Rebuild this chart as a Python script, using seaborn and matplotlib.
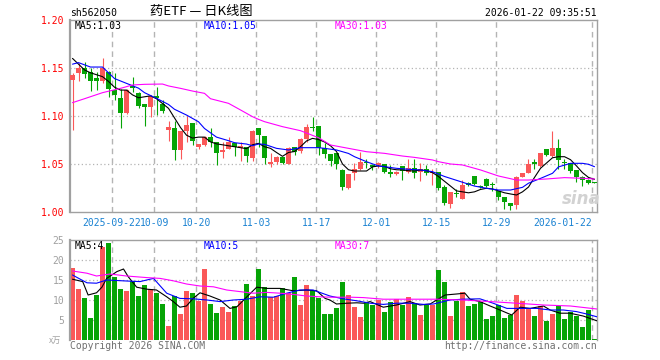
import matplotlib
matplotlib.use("Agg")
import matplotlib.pyplot as plt
import numpy as np
import pandas as pd
import seaborn as sns

# ---- daily candles (index 0 = first visible trading day) ----
opens = [1.1375, 1.1444, 1.1503, 1.1458, 1.1399, 1.1368, 1.1458, 1.1271, 1.1188, 1.1028,
         1.1310, 1.1243, 1.1125, 1.1090, 1.1212, 1.1125, 1.0854, 1.0878, 1.0646, 1.0844,
         1.0927, 1.0674, 1.0698, 1.0778, 1.0726, 1.0630, 1.0660, 1.0720, 1.0665, 1.0680,
         1.0566, 1.0875, 1.0792, 1.0500, 1.0524, 1.0576, 1.0500, 1.0674, 1.0639, 1.0760,
         1.0875, 1.0896, 1.0663, 1.0604, 1.0618, 1.0438, 1.0253, 1.0403, 1.0445, 1.0510,
         1.0488, 1.0490, 1.0500, 1.0420, 1.0396, 1.0479, 1.0420, 1.0455, 1.0420, 1.0445,
         1.0403, 1.0413, 1.0264, 1.0080, 1.0190, 1.0135, 1.0299, 1.0375, 1.0274, 1.0344,
         1.0285, 1.0222, 1.0160, 1.0090, 1.0073, 1.0368, 1.0410, 1.0510, 1.0482, 1.0656,
         1.0583, 1.0663, 1.0510, 1.0510, 1.0438, 1.0368, 1.0333, 1.0310]
closes = [1.1427, 1.1503, 1.1438, 1.1368, 1.1368, 1.1503, 1.1285, 1.1219, 1.1035, 1.1271,
          1.1290, 1.1104, 1.1090, 1.1208, 1.1184, 1.1052, 1.0885, 1.0646, 1.0844, 1.0906,
          1.0742, 1.0705, 1.0785, 1.0726, 1.0618, 1.0639, 1.0726, 1.0680, 1.0691, 1.0583,
          1.0844, 1.0802, 1.0566, 1.0524, 1.0576, 1.0514, 1.0663, 1.0628, 1.0760, 1.0889,
          1.0870, 1.0663, 1.0604, 1.0531, 1.0500, 1.0264, 1.0396, 1.0445, 1.0524, 1.0507,
          1.0465, 1.0514, 1.0420, 1.0396, 1.0420, 1.0430, 1.0455, 1.0403, 1.0445, 1.0403,
          1.0410, 1.0247, 1.0090, 1.0212, 1.0186, 1.0281, 1.0285, 1.0288, 1.0260, 1.0274,
          1.0278, 1.0153, 1.0101, 1.0063, 1.0361, 1.0410, 1.0500, 1.0505, 1.0611, 1.0594,
          1.0663, 1.0542, 1.0507, 1.0432, 1.0368, 1.0333, 1.0306, 1.0306]
highs = [1.1445, 1.1550, 1.1560, 1.1500, 1.1455, 1.1601, 1.1470, 1.1445, 1.1280, 1.1280,
         1.1410, 1.1245, 1.1130, 1.1220, 1.1306, 1.1167, 1.0950, 1.0951, 1.0847, 1.1002,
         1.0930, 1.0708, 1.0790, 1.0870, 1.0726, 1.0733, 1.0785, 1.0720, 1.0733, 1.0680,
         1.0852, 1.0875, 1.0792, 1.0611, 1.0580, 1.0576, 1.0680, 1.0674, 1.0767, 1.0917,
         1.0993, 1.0896, 1.0715, 1.0604, 1.0618, 1.0445, 1.0396, 1.0507, 1.0628, 1.0552,
         1.0500, 1.0524, 1.0500, 1.0490, 1.0425, 1.0479, 1.0552, 1.0552, 1.0514, 1.0490,
         1.0445, 1.0413, 1.0281, 1.0212, 1.0236, 1.0333, 1.0310, 1.0380, 1.0280, 1.0350,
         1.0316, 1.0222, 1.0160, 1.0090, 1.0375, 1.0410, 1.0552, 1.0549, 1.0618, 1.0656,
         1.0844, 1.0760, 1.0549, 1.0510, 1.0438, 1.0380, 1.0340, 1.0315]
lows = [1.0854, 1.1360, 1.1400, 1.1264, 1.1270, 1.1340, 1.1200, 1.1167, 1.0878, 1.1020,
        1.1253, 1.1080, 1.0899, 1.0990, 1.1010, 1.1035, 1.0740, 1.0542, 1.0555, 1.0733,
        1.0698, 1.0660, 1.0690, 1.0680, 1.0493, 1.0559, 1.0656, 1.0588, 1.0528, 1.0524,
        1.0535, 1.0680, 1.0497, 1.0472, 1.0497, 1.0497, 1.0500, 1.0594, 1.0615, 1.0728,
        1.0847, 1.0594, 1.0559, 1.0479, 1.0445, 1.0229, 1.0236, 1.0333, 1.0438, 1.0455,
        1.0440, 1.0455, 1.0403, 1.0361, 1.0390, 1.0333, 1.0410, 1.0351, 1.0326, 1.0385,
        1.0281, 1.0229, 1.0073, 1.0038, 1.0160, 1.0132, 1.0270, 1.0280, 1.0250, 1.0265,
        1.0222, 1.0125, 1.0028, 1.0021, 1.0028, 1.0365, 1.0405, 1.0444, 1.0472, 1.0587,
        1.0576, 1.0445, 1.0444, 1.0410, 1.0316, 1.0271, 1.0295, 1.0300]
# volume in units of 10k
volumes = [18.0, 12.75, 10.5, 5.6, 11.25, 23.2, 24.3, 15.7, 12.75, 12.25,
           14.8, 11.0, 13.75, 12.7, 11.75, 9.0, 3.5, 11.1, 6.5, 12.25,
           11.75, 9.8, 17.75, 9.0, 6.75, 8.25, 7.0, 8.5, 9.75, 14.0,
           11.0, 17.75, 13.25, 10.7, 11.1, 13.0, 11.7, 15.75, 8.75, 13.75,
           12.5, 10.5, 6.5, 6.5, 8.0, 14.6, 11.25, 8.25, 5.75, 9.5,
           8.75, 10.0, 7.0, 9.5, 10.3, 8.75, 10.75, 9.25, 6.25, 8.75,
           8.75, 17.5, 14.6, 6.0, 9.8, 12.0, 8.5, 9.0, 9.5, 5.25,
           6.0, 8.75, 5.5, 6.25, 11.25, 9.8, 8.0, 6.0, 8.5, 4.8,
           6.5, 8.5, 5.25, 7.0, 6.0, 3.25, 7.5, 0.25]

# ---- moving average lines ----
ma5 = [1.160, 1.154, 1.148, 1.145, 1.143, 1.141, 1.136, 1.130, 1.127, 1.127,
       1.122, 1.119, 1.120, 1.121, 1.118, 1.113, 1.108, 1.098, 1.088, 1.080,
       1.077, 1.078, 1.078, 1.073, 1.071, 1.070, 1.069, 1.068, 1.067, 1.066,
       1.070, 1.0715, 1.068, 1.0663, 1.062, 1.058, 1.062, 1.063, 1.068, 1.074,
       1.0767, 1.0755, 1.073, 1.069, 1.063, 1.050, 1.044, 1.0427, 1.0427, 1.0427,
       1.047, 1.048, 1.0475, 1.045, 1.044, 1.0438, 1.043, 1.0427, 1.0438, 1.043,
       1.041, 1.037, 1.032, 1.027, 1.022, 1.021, 1.020, 1.021, 1.0235, 1.0247,
       1.024, 1.022, 1.020, 1.0188, 1.0177, 1.021, 1.026, 1.036, 1.0455, 1.051,
       1.0565, 1.0576, 1.0576, 1.0545, 1.048, 1.041, 1.036, 1.034]
ma10_x = [0, 1, 3, 5, 6, 7, 9, 11, 12, 14, 16, 17, 19, 21, 22, 24, 26, 27, 29, 30,
          31, 32, 34, 36, 38, 41, 42, 44, 46, 47, 49, 51, 52, 54, 56, 58, 60, 62, 65,
          67, 69, 71, 73, 75, 76, 78, 80, 81, 83, 85, 86, 87]
ma10 = [1.154, 1.1556, 1.151, 1.151, 1.145, 1.139, 1.134, 1.129, 1.1243, 1.1184,
        1.112, 1.107, 1.101, 1.094, 1.087, 1.078, 1.0743, 1.0722, 1.0708, 1.069,
        1.0708, 1.0705, 1.0663, 1.0646, 1.067, 1.067, 1.0663, 1.0646, 1.061, 1.0576,
        1.0524, 1.0479, 1.0472, 1.0455, 1.0445, 1.0438, 1.042, 1.037, 1.031,
        1.027, 1.0247, 1.0229, 1.0229, 1.0257, 1.030, 1.035, 1.0403, 1.047, 1.0507,
        1.0507, 1.0497, 1.0472]
ma30_x = [0, 2, 5, 8, 10, 12, 15, 16, 18, 20, 22, 23, 26, 28, 30, 31, 32, 35, 38, 41,
          43, 46, 49, 52, 55, 57, 60, 61, 63, 65, 68, 71, 74, 76, 79, 82, 85, 87]
ma30 = [1.1139, 1.118, 1.1243, 1.1288, 1.1323, 1.133, 1.1333, 1.1313, 1.1288, 1.126,
        1.1236, 1.118, 1.1132, 1.1063, 1.0993, 1.0965, 1.0941, 1.0889, 1.0847, 1.0774,
        1.0698, 1.0663, 1.0628, 1.0611, 1.0583, 1.0569, 1.0542, 1.0524, 1.0500, 1.0490,
        1.0438, 1.0375, 1.0333, 1.0333, 1.0344, 1.0358, 1.0351, 1.0344]

vma5_x = [0, 1.7, 2.6, 4, 4.9, 5.7, 7.4, 8.5, 9.3, 10.7, 12.4, 14, 15.7, 16.8, 17.9, 19,
          20.1, 21.25, 22.9, 24.6, 26.25, 27.4, 29, 30.7, 32.4, 34.6, 36.8, 39, 40.7, 42.1,
          42.9, 44, 45.7, 47.4, 48.5, 49.6, 51.8, 54, 56.25, 57.9, 59.6, 60.7, 62.1, 64,
          65.4, 66.25, 67.9, 69.6, 71.25, 73.2, 74.6, 76.25, 78.5, 79.6, 81.25, 82.9, 85.1,
          86.25, 87.4]
vma5 = [15.2, 14.6, 11.25, 11.8, 13.2, 15.4, 17.1, 17.75, 15.8, 13.2, 12.7, 12.5, 10.8, 9.6,
        8.2, 8.5, 10.4, 11.8, 11.0, 10.0, 7.9, 8.3, 10.7, 13.2, 12.9, 12.9, 12.3, 12.5, 12.3,
        10.4, 10.0, 9.0, 9.2, 9.3, 9.2, 9.6, 8.2, 8.75, 9.6, 8.75, 9.0, 10.0, 11.25, 11.5,
        11.7, 10.2, 9.6, 8.5, 7.5, 6.25, 8.2, 7.9, 8.5, 7.5, 6.7, 6.7, 6.0, 5.4, 4.8]
vma10_x = [0, 2.4, 4, 5.7, 9, 11.25, 13.5, 15.7, 17.9, 20.1, 22.4, 24.6, 26.8, 29, 31.25,
           33.5, 35.7, 37.9, 40.1, 42.9, 45.1, 47.4, 49.6, 51.8, 54, 56.25, 58.5, 60.2,
           62.9, 65.1, 67.9, 70.1, 72.4, 75.1, 77.4, 79.6, 81.8, 84, 85.7, 87.4]
vma10 = [16.25, 14.3, 14.2, 15.0, 14.75, 14.6, 15.4, 11.7, 10.4, 10.3, 10.0, 9.6, 10.0,
         10.2, 10.8, 10.7, 11.7, 12.5, 12.5, 11.0, 10.3, 9.8, 9.2, 8.9, 9.2, 9.2, 8.9, 9.0,
         10.0, 10.2, 10.3, 9.2, 7.9, 7.9, 7.9, 7.5, 7.5, 7.1, 6.5, 5.8]
vma30_x = [0, 2.4, 4, 6.25, 9, 12.4, 14.6, 16.8, 19, 21.25, 23.5, 25.7, 27.9, 30.1, 32.4,
           34.6, 36.8, 39, 41.25, 42.9, 46.3, 48.5, 51.8, 56.3, 60.7, 65.1, 69.6, 74,
           78.5, 83, 87.4]
vma30 = [17.25, 16.7, 16.0, 16.5, 16.0, 15.6, 15.4, 14.8, 14.0, 13.5, 13.3, 12.5, 12.1,
         11.7, 11.9, 11.7, 11.4, 11.0, 10.8, 10.7, 10.7, 10.6, 10.2, 10.2, 10.2, 10.0, 9.6,
         9.2, 8.75, 8.5, 7.75]

date_pos = [7, 14, 21, 31, 41, 51, 61, 71, 87]
date_labels = ["2025-09-22", "10-09", "10-20", "11-03", "11-17", "12-01", "12-15",
               "12-29", "2026-01-22"]

RED = "#fa5858"
GREEN = "#06a406"
BLUE_TXT = "#1a82d2"
FRAME = "#a0a0a0"
GRID = "#b4b4b4"
MONO = "DejaVu Sans Mono"
CJK = ["Noto Sans CJK SC", "DejaVu Sans"]

sns.set_style("white")
plt.rcParams["font.family"] = [MONO, "Noto Sans CJK SC"]

n = len(closes)
idx = np.arange(n)
o = np.array(opens)
c = np.array(closes)
up = c >= o
colors = np.where(up, RED, GREEN)

W, H = 660, 360
fig = plt.figure(figsize=(6.6, 3.6), dpi=100)
axp = fig.add_axes([70 / W, 1 - 212 / H, 527 / W, 192 / H])
axv = fig.add_axes([70 / W, 1 - 340 / H, 527 / W, 100 / H])

# ---- price panel ----
axp.vlines(idx, lows, highs, colors=colors, lw=0.8, zorder=3)
body_h = np.maximum(np.abs(c - o), 0.0011)
axp.bar(idx, body_h, bottom=np.minimum(o, c), width=0.83, color=colors,
        linewidth=0, zorder=4)
sns.lineplot(x=idx, y=ma5, ax=axp, color="black", lw=0.8, zorder=5)
sns.lineplot(x=ma10_x, y=ma10, ax=axp, color="#0000ff", lw=0.8, zorder=5)
sns.lineplot(x=ma30_x, y=ma30, ax=axp, color="#ff00ff", lw=0.8, zorder=5)
axp.set_ylim(1.00, 1.20)
for yv in [1.05, 1.10, 1.15]:
    axp.axhline(yv, color=GRID, lw=0.9, ls=(0, (1, 2)), zorder=0)

# ---- volume panel ----
vol_df = pd.DataFrame({"day": idx, "vol": volumes,
                       "dir": np.where(up, "up", "down")})
sns.barplot(data=vol_df, x="day", y="vol", hue="dir", native_scale=True,
            palette={"up": RED, "down": GREEN}, dodge=False, width=0.83,
            saturation=1, errorbar=None, legend=False, linewidth=0, ax=axv)
sns.lineplot(x=vma5_x, y=vma5, ax=axv, color="black", lw=0.8, zorder=5)
sns.lineplot(x=vma10_x, y=vma10, ax=axv, color="#0000ff", lw=0.8, zorder=5)
sns.lineplot(x=vma30_x, y=vma30, ax=axv, color="#ff00ff", lw=0.8, zorder=5)
axv.set_ylim(0, 25)
for yv in [5, 10, 15, 20]:
    axv.axhline(yv, color=GRID, lw=0.9, ls=(0, (1, 2)), zorder=0)

for ax in (axp, axv):
    ax.set_xlim(-0.4167, 87.4167)
    ax.set_xlabel("")
    ax.set_ylabel("")
    for p in date_pos:
        ax.axvline(p - 0.4, color=GRID, lw=1.0, ls=(0, (4, 3)), zorder=0)
    for s in ax.spines.values():
        s.set_color(FRAME)
        s.set_linewidth(1.0)
    ax.spines["left"].set_linewidth(1.6)
    ax.tick_params(length=0)
axv.spines["bottom"].set_visible(False)

axp.set_xticks([p - 0.4 for p in date_pos], date_labels, color=BLUE_TXT,
               fontfamily=MONO, fontsize=7)
axp.get_xticklabels()[-1].set_ha("right")
axp.tick_params(axis="x", pad=4)
axp.set_yticks([1.00, 1.05, 1.10, 1.15, 1.20],
               ["1.00", "1.05", "1.10", "1.15", "1.20"], color="red",
               fontfamily=MONO, fontsize=7)
axp.tick_params(axis="y", pad=4)
axv.set_xticks([])
axv.set_yticks([5, 10, 15, 20, 25], ["5", "10", "15", "20", "25"],
               color="#a0a0a0", fontfamily=MONO, fontsize=7)
axv.tick_params(axis="y", pad=4)


def ftext(x, y, s, **kw):
    fig.text(x / W, 1 - y / H, s, va="center", **kw)


ftext(70, 13, "sh562050", fontfamily=MONO, fontsize=7, color="black")
ftext(201, 12, "药ETF — 日K线图", fontfamily=CJK, fontsize=9.5, color="black",
      ha="center")
ftext(597, 13, "2026-01-22 09:35:51", fontfamily=MONO, fontsize=7,
      color="black", ha="right")
ftext(75, 26, "MA5:1.03", fontfamily=MONO, fontsize=7, color="black")
ftext(204, 26, "MA10:1.05", fontfamily=MONO, fontsize=7, color="#0000ff")
ftext(335, 26, "MA30:1.03", fontfamily=MONO, fontsize=7, color="#ff00ff")
ftext(75, 246, "MA5:4", fontfamily=MONO, fontsize=7, color="black")
ftext(204, 246, "MA10:5", fontfamily=MONO, fontsize=7, color="#0000ff")
ftext(335, 246, "MA30:7", fontfamily=MONO, fontsize=7, color="#ff00ff")
ftext(49, 340, "x万", fontfamily=CJK, fontsize=6, color="#a0a0a0")
ftext(70, 346, "Copyright 2026 SINA.COM", fontfamily=MONO, fontsize=7,
      color="#707070")
ftext(597, 346, "http://finance.sina.com.cn", fontfamily=MONO, fontsize=7,
      color="#707070", ha="right")
ftext(581, 199, "sina", fontfamily="DejaVu Sans", fontsize=12, color="#d2d2d2",
      ha="center", style="italic", weight="bold")

fig.savefig("out.png", dpi=100)
